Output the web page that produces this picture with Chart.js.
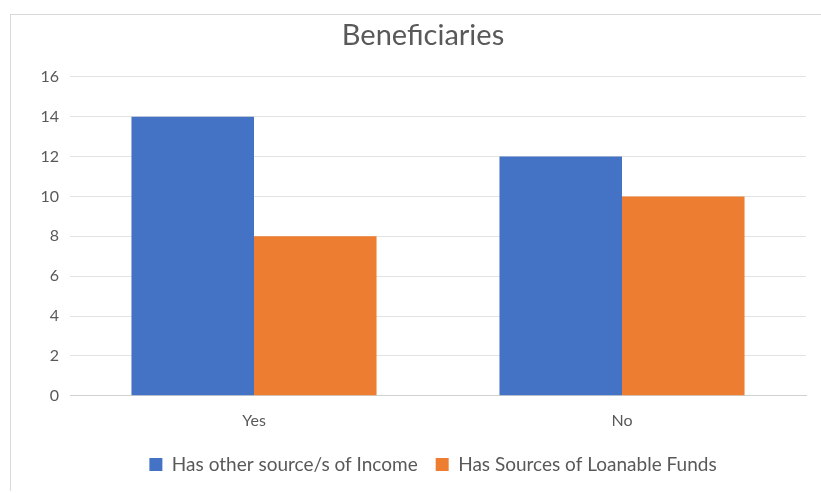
<!DOCTYPE html>
<html>
<head>
<meta charset="utf-8">
<script src="https://cdn.jsdelivr.net/npm/chart.js@4"></script>
<style>
  html, body { margin: 0; padding: 0; background: #fff; }
  #frame { position: absolute; left: 10px; top: 14px; width: 830px; height: 476px; border-left: 1px solid #d9d9d9; border-top: 1px solid #d9d9d9; }
  #wrap { position: absolute; left: 0; top: 0; width: 821px; height: 493px; }
</style>
</head>
<body>
<div id="frame"></div>
<div id="wrap"><canvas id="myChart"></canvas></div>
<script>
const categories = ['Yes', 'No'];
const otherIncome = [14, 12];
const loanableFunds = [8, 10];
const yMax = 16;
const yStep = 2;

const grey = '#595959';
const fontFamily = 'Lato, "Open Sans", sans-serif';

const data = {
  labels: categories,
  datasets: [
    { label: 'Has other source/s of Income', data: otherIncome, backgroundColor: '#4472C4' },
    { label: 'Has Sources of Loanable Funds', data: loanableFunds, backgroundColor: '#ED7D31' }
  ]
};

// nudge legend and title so they sit centred under/over the plot like the original
const shiftBoxes = {
  id: 'shiftBoxes',
  afterLayout(chart) {
    const lg = chart.legend;
    lg.left += 15;
    lg.right += 15;
    const t = chart.titleBlock;
    if (t) { t.left += 5; t.right += 5; }
  }
};

const config = {
  type: 'bar',
  data: data,
  plugins: [shiftBoxes],
  options: {
    responsive: true,
    maintainAspectRatio: false,
    animation: false,
    datasets: { bar: { categoryPercentage: 0.666, barPercentage: 1 } },
    layout: { padding: { left: 30, right: 15, top: 14, bottom: 9 } },
    plugins: {
      title: {
        display: true,
        text: 'Beneficiaries',
        color: grey,
        font: { family: fontFamily, size: 29, weight: 'normal' },
        padding: { top: 4, bottom: 24 }
      },
      legend: {
        position: 'bottom',
        labels: {
          boxWidth: 13,
          boxHeight: 13,
          color: grey,
          font: { family: fontFamily, size: 19 },
          padding: 18
        }
      },
      tooltip: { enabled: false }
    },
    scales: {
      x: {
        grid: { display: false },
        border: { color: '#d0d0d0' },
        ticks: { color: grey, font: { family: fontFamily, size: 16 }, padding: 7 }
      },
      y: {
        min: 0,
        max: yMax,
        afterFit: (axis) => { axis.width = 40; },
        grid: { color: '#e3e3e3', drawTicks: false },
        border: { display: false },
        ticks: { stepSize: yStep, color: grey, font: { family: fontFamily, size: 16 }, padding: 11 }
      }
    }
  }
};

new Chart(document.getElementById('myChart'), config);
</script>
</body>
</html>
